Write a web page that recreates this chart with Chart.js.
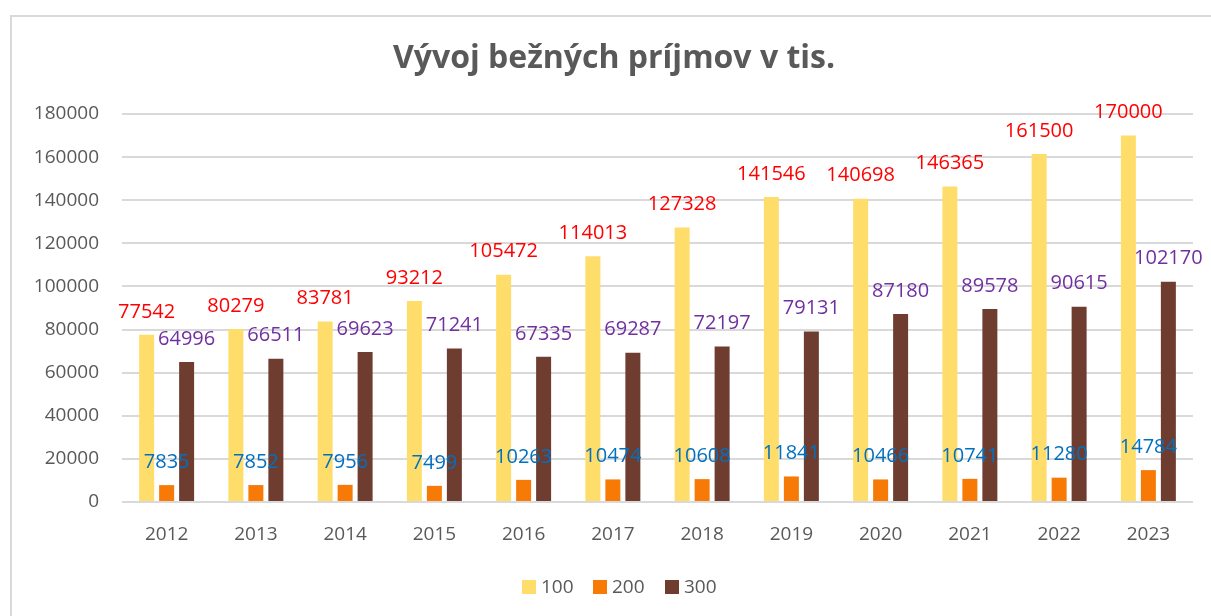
<!DOCTYPE html>
<html>
<head>
<meta charset="utf-8">
<script src="https://cdn.jsdelivr.net/npm/chart.js@4.4.1/dist/chart.umd.min.js"></script>
<style>
  html, body { margin: 0; padding: 0; background: #ffffff; overflow: hidden; }
  #frame { position: absolute; left: 10px; top: 15px; width: 1300px; height: 700px; border: 2px solid #D9D9D9; box-sizing: border-box; }
  #wrap { position: absolute; left: 0; top: 0; width: 1211px; height: 616px; }
</style>
</head>
<body>
<div id="frame"></div>
<div id="wrap"><canvas id="c" width="1211" height="616"></canvas></div>
<script>
const chartTitle = 'Vývoj bežných príjmov v tis.';
const categories = ['2012', '2013', '2014', '2015', '2016', '2017', '2018', '2019', '2020', '2021', '2022', '2023'];
const seriesNames = ['100', '200', '300'];
const series100 = [77542, 80279, 83781, 93212, 105472, 114013, 127328, 141546, 140698, 146365, 161500, 170000];
const series200 = [7835, 7852, 7956, 7499, 10263, 10474, 10608, 11841, 10466, 10741, 11280, 14784];
const series300 = [64996, 66511, 69623, 71241, 67335, 69287, 72197, 79131, 87180, 89578, 90615, 102170];
const yMin = 0, yMax = 180000, yStep = 20000;

const barColors = ['#FFDD6B', '#F67A05', '#6F3D30'];
const labelColors = ['#FF0000', '#0070C0', '#7030A0'];
const FONT = "'Open Sans', 'DejaVu Sans', sans-serif";
const TEXT = '#595959';

const overlayPlugin = {
  id: 'overlay',
  afterDatasetsDraw(chart) {
    const ctx = chart.ctx;
    ctx.save();
    // data labels
    chart.data.datasets.forEach((ds, di) => {
      const meta = chart.getDatasetMeta(di);
      ctx.font = '20px ' + FONT;
      ctx.fillStyle = labelColors[di];
      ctx.textAlign = 'center';
      ctx.textBaseline = 'middle';
      meta.data.forEach((bar, i) => {
        ctx.fillText(String(ds.data[i]), bar.x, bar.y - 23);
      });
    });
    // title
    ctx.font = 'bold 32px ' + FONT;
    ctx.fillStyle = TEXT;
    ctx.textAlign = 'center';
    ctx.textBaseline = 'middle';
    ctx.fillText(chartTitle, 614, 59);
    // legend
    const items = [{x: 522, tx: 541}, {x: 593, tx: 612}, {x: 665, tx: 684}];
    ctx.font = '19px ' + FONT;
    ctx.textAlign = 'left';
    items.forEach((it, k) => {
      ctx.fillStyle = barColors[k];
      ctx.fillRect(it.x, 580, 14, 14);
      ctx.fillStyle = TEXT;
      ctx.fillText(seriesNames[k], it.tx, 588);
    });
    ctx.restore();
  }
};

new Chart(document.getElementById('c'), {
  type: 'bar',
  data: {
    labels: categories,
    datasets: [
      { label: seriesNames[0], data: series100, backgroundColor: barColors[0] },
      { label: seriesNames[1], data: series200, backgroundColor: barColors[1] },
      { label: seriesNames[2], data: series300, backgroundColor: barColors[2] }
    ]
  },
  options: {
    responsive: false,
    animation: false,
    layout: { padding: { left: 0, right: 18, top: 114, bottom: 54 } },
    datasets: { bar: { categoryPercentage: 0.672, barPercentage: 0.75 } },
    plugins: { legend: { display: false }, title: { display: false }, tooltip: { enabled: false } },
    scales: {
      x: {
        grid: { display: false, drawTicks: false },
        border: { display: false },
        ticks: { color: TEXT, font: { family: FONT, size: 19 }, padding: 21, maxRotation: 0 },
        afterFit(scale) { scale.height = 60; }
      },
      y: {
        min: yMin, max: yMax,
        grid: { color: '#D9D9D9', lineWidth: 2, drawTicks: false },
        border: { display: false },
        ticks: { stepSize: yStep, color: TEXT, font: { family: FONT, size: 19 }, padding: 23,
                 callback: (v) => String(v) },
        afterFit(scale) { scale.width = 122; }
      }
    }
  },
  plugins: [overlayPlugin]
});
</script>
</body>
</html>
